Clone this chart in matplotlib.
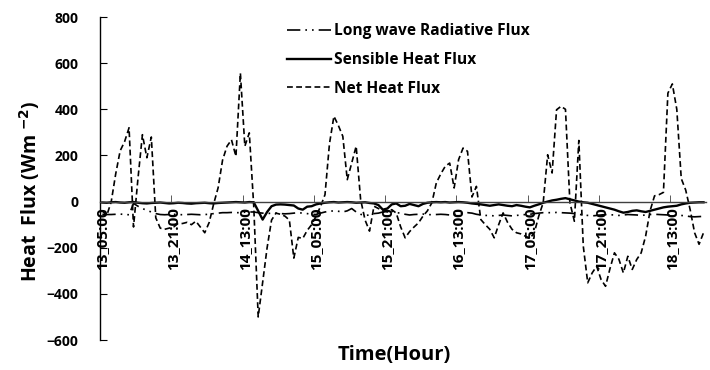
import numpy as np
import matplotlib.pyplot as plt

plt.rcParams['font.family'] = ['Open Sans', 'DejaVu Sans']
plt.rcParams['font.weight'] = 'bold'

# hourly data, 13_05:00 ... 18_20:00
tick_labels = ['13_05:00', '13_21:00', '14_13:00', '15_05:00', '15_21:00',
               '16_13:00', '17_05:00', '17_21:00', '18_13:00']

longwave = [-55, -56, -56, -55, -54, -56, -57, -8, -20, -30, -38, -45, -52,
            -56, -57, -56, -55, -56, -57, -56, -55, -56, -57, -56,
            -55, -52, -50, -48, -48, -47, -48, -48, -46, -45, -45,
            -48, -50, -52, -50, -50, -52, -53, -52, -50, -48, -50, -52, -55,
            -56, -50, -45, -42, -40, -42, -45, -40, -30, -45, -55, -60, -58,
            -52, -50, -45, -40, -42, -48, -50, -55, -58, -56, -55, -54, -56, -57, -56, -55, -56, -58, -55,
            -52, -50, -48, -50, -55, -58, -60, -60, -62, -60, -58, -60, -62, -60, -58, -56, -55, -52, -50, -48,
            -48, -48, -47, -48, -49, -50, -52, -55, -58, -60, -62, -60, -58,
            -56, -57, -58, -60, -58, -56, -57, -58, -60, -58, -56, -55, -56, -57, -58, -58, -60, -60, -62, -65, -66, -65, -64]

sensible = [-4, -5, -3, -2, -4, -5, -3, -2, -5, -7, -8, -6, -5, -4, -6, -8, -7, -5, -6, -8, -9, -7, -6, -5,
            -7, -8, -6, -5, -4, -3, -2, -3, -4, -2, -3,
            -40, -78, -45, -20, -13, -12, -13, -15, -17, -30, -35, -22, -20, -12, -8, -5,
            -3, -2, -4, -3, -2, -3, -5, -4, -3, -6,
            -8, -15, -35, -30, -12, -8, -20, -18, -10, -15, -20, -10, -5, -3,
            -2, -3, -2, -4, -3, -2, -3, -5, -8, -10, -12, -15, -18, -15, -12, -15,
            -18, -20, -15, -18, -22, -25, -18, -12, -5,
            0, 5, 8, 12, 15, 10, 5,
            0, -3, -5, -10, -15, -20,
            -25, -30, -35, -42, -48, -45, -40, -38, -42, -45, -40, -35, -30,
            -25, -22, -20, -18, -12, -8, -5, -4, -3, -3]

net = [-40, -60, 0, 120, 220, 260, 320, -110, 100, 290, 190, 280, -70, -115, -120, -115,
       -110, -95, -95, -90, -100, -85, -110, -135, -90, -10, 60, 180, 240, 268, 196, 557,
       240, 298, -20, -500, -350, -200, -80, -50, -55, -63, -80, -245, -155, -160, -125, -100,
       -63, -21, 30, 250, 370, 330, 283, 95, 168, 240, 9, -80, -128, -20, -30, -40,
       -45, -35, -50, -110, -157, -130, -110, -92, -63, -40, -5, 81, 120, 153, 167, 59,
       182, 232, 218, 20, 66, -78, -100, -120, -157, -100, -49, -90, -120, -135, -140, -150,
       -160, -135, -63, -5, 203, 124, 398, 413, 400, -5, -85, 265, -193, -352, -309, -280,
       -338, -367, -290, -222, -250, -309, -237, -294, -251, -222, -150, -40, 25, 30, 40, 470,
       510, 400, 100, 50, -35, -135, -185, -135]

x = np.arange(len(net))

fig = plt.figure(figsize=(7.1, 3.7), dpi=100)
ax = fig.add_axes([0.141, 0.081, 0.853, 0.873])

ax.plot(x, longwave, color='black', lw=1.2, linestyle=(0, (8, 3, 1, 3, 1, 3)),
        label='Long wave Radiative Flux')
ax.plot(x, sensible, color='black', lw=1.7, label='Sensible Heat Flux')
ax.plot(x, net, color='black', lw=1.2, linestyle=(0, (3.5, 2)), label='Net Heat Flux')

ax.set_xlim(-0.5, len(net) - 0.5)
ax.set_ylim(-600, 800)
ax.set_yticks(np.arange(-600, 801, 200))

ax.spines['top'].set_visible(False)
ax.spines['right'].set_visible(False)
ax.spines['bottom'].set_position(('data', 0))
ax.spines['bottom'].set_color('#404040')
ax.spines['bottom'].set_linewidth(1.0)
ax.spines['left'].set_linewidth(1.0)

ax.set_xticks(np.arange(0, len(net), 16))
ax.set_xticklabels(tick_labels, rotation=90, fontsize=11, fontweight='bold')
ax.set_xticks(np.arange(0, len(net), 16) - 0.5, minor=True)
ax.tick_params(axis='x', which='major', length=0, pad=4)
ax.tick_params(axis='x', which='minor', direction='in', length=5, color='#404040')
ax.tick_params(axis='y', direction='in', length=5, labelsize=10, pad=15.5)
for t in ax.get_yticklabels():
    t.set_fontweight('bold')

fig.text(0.042, 0.484, r'Heat  Flux (Wm $^{\mathbf{-2}}$)', rotation=90, ha='center',
         va='center', fontsize=14, fontweight='bold')
fig.text(0.555, 0.04, 'Time(Hour)', ha='center', va='center', fontsize=14.5, fontweight='bold')

ax.legend(loc='upper left', bbox_to_anchor=(0.385, 0.975), bbox_transform=fig.transFigure,
          frameon=False, handlelength=2.8, handletextpad=0.2,
          labelspacing=0.82, prop={'weight': 'bold', 'size': 11.2})

fig.savefig('out.png', dpi=100)
